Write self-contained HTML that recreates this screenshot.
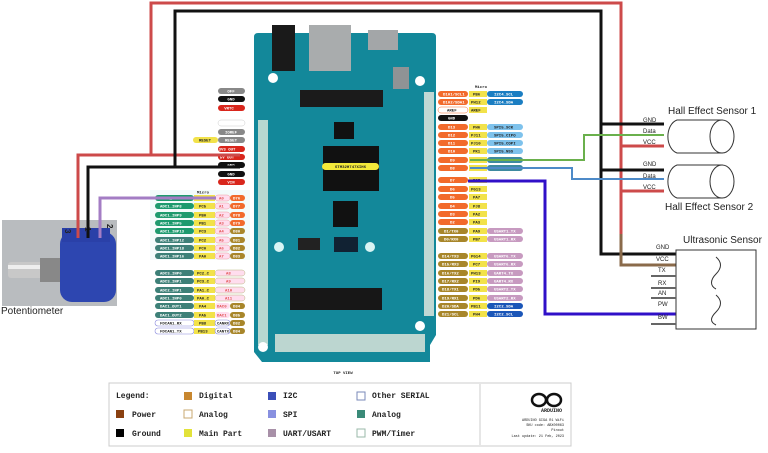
<!DOCTYPE html>
<html><head><meta charset="utf-8"><style>
html,body{margin:0;padding:0;background:#fff;width:768px;height:453px;overflow:hidden}
svg{display:block}
.t{font-family:"Liberation Mono",monospace;font-weight:bold;font-size:4px;fill:#fff}
.d{font-family:"Liberation Mono",monospace;font-weight:bold;font-size:4px;fill:#222}
.r{font-family:"Liberation Mono",monospace;font-weight:bold;font-size:4px;fill:#e05050}
.s{font-family:"Liberation Sans",sans-serif;fill:#222}
.lg{font-family:"Liberation Mono",monospace;font-weight:bold;font-size:8px;fill:#222}
</style></head><body>
<svg width="768" height="453" viewBox="0 0 768 453" xmlns="http://www.w3.org/2000/svg">
<!-- board -->
<path d="M254 37 Q254 33 258 33 L432 33 Q436 33 436 37 L436 335 L430 345 L430 362 L262 362 L254 352 Z" fill="#13889a"/>
<rect x="258" y="120" width="10" height="225" fill="#b8d8d0"/>
<rect x="424" y="92" width="10" height="224" fill="#c0d8d4"/>
<rect x="275" y="334" width="150" height="18" fill="#bcd6d0"/>
<rect x="272" y="25" width="23" height="46" fill="#1a1a1a"/>
<rect x="309" y="25" width="42" height="46" fill="#a9acad"/>
<rect x="368" y="30" width="30" height="20" fill="#a3a6a8"/>
<rect x="393" y="67" width="16" height="22" fill="#8f9395"/>
<rect x="300" y="90" width="83" height="17" fill="#1b1b1b"/>
<rect x="334" y="122" width="20" height="17" fill="#111"/>
<rect x="323" y="146" width="56" height="45" fill="#111"/>
<rect x="322" y="163" width="57" height="7" rx="3.5" fill="#f3e93a"/>
<text x="350.5" y="168" text-anchor="middle" class="d">STM32H747XIH6</text>
<rect x="333" y="201" width="25" height="26" fill="#111"/>
<rect x="298" y="238" width="22" height="12" fill="#222"/>
<rect x="334" y="237" width="24" height="15" fill="#123"/>
<rect x="290" y="288" width="92" height="22" fill="#171717"/>
<circle cx="273" cy="78" r="5" fill="#fff"/><circle cx="420" cy="81" r="5" fill="#fff"/>
<circle cx="279" cy="247" r="5" fill="#d8f4f4"/><circle cx="370" cy="247" r="5" fill="#d8f4f4"/>
<circle cx="420" cy="326" r="5" fill="#fff"/><circle cx="263" cy="347" r="5" fill="#fff"/>
<text x="343" y="374" class="d" text-anchor="middle">TOP VIEW</text>

<!-- left top labels -->
<g>
<rect x="218" y="88" width="27" height="6" rx="3" fill="#888"/><text x="231" y="92.5" class="t" text-anchor="middle">OFF</text>
<rect x="218" y="96" width="27" height="6" rx="3" fill="#111"/><text x="231" y="100.5" class="t" text-anchor="middle">GND</text>
<rect x="218" y="105" width="27" height="6" rx="3" fill="#d9261c"/><text x="229" y="109.5" class="t" text-anchor="middle">VRTC</text>
<rect x="218" y="120" width="27" height="6" rx="3" fill="#fff" stroke="#ccc" stroke-width=".5"/>
<rect x="218" y="129" width="27" height="6" rx="3" fill="#888"/><text x="231" y="133.5" class="t" text-anchor="middle">IOREF</text>
<rect x="193" y="137" width="25" height="6" rx="3" fill="#f2e24a"/><text x="205" y="141.5" class="d" text-anchor="middle">RESET</text>
<rect x="218" y="137" width="27" height="6" rx="3" fill="#888"/><text x="231" y="141.5" class="t" text-anchor="middle">RESET</text>
<rect x="218" y="146" width="27" height="6" rx="3" fill="#d9261c"/><text x="227" y="150.5" class="t" text-anchor="middle">3V3 OUT</text>
<rect x="218" y="154" width="27" height="6" rx="3" fill="#d9261c"/><text x="227" y="158.5" class="t" text-anchor="middle">5V OUT</text>
<rect x="218" y="162" width="27" height="6" rx="3" fill="#111"/><text x="231" y="166.5" class="t" text-anchor="middle">GND</text>
<rect x="218" y="171" width="27" height="6" rx="3" fill="#111"/><text x="231" y="175.5" class="t" text-anchor="middle">GND</text>
<rect x="218" y="179" width="27" height="6" rx="3" fill="#d9261c"/><text x="231" y="183.5" class="t" text-anchor="middle">VIN</text>
</g>
<!-- left analog -->
<g>
<rect x="150" y="190" width="100" height="70" fill="#f3fbfb"/>
<text x="197" y="193.5" class="d">Micro</text>
<rect x="155" y="195" width="39" height="6" rx="3" fill="#1e9a6e"/><rect x="194" y="195" width="21" height="6" fill="#f2e24a"/><rect x="215" y="195" width="15" height="6" rx="3" fill="#fde" stroke="#e88" stroke-width=".4"/><rect x="230" y="195" width="15" height="6" rx="3" fill="#f26a2b"/>
<rect x="155" y="203" width="39" height="6" rx="3" fill="#1e9a6e"/><rect x="194" y="203" width="21" height="6" fill="#f2e24a"/><rect x="215" y="203" width="15" height="6" rx="3" fill="#fde" stroke="#e88" stroke-width=".4"/><rect x="230" y="203" width="15" height="6" rx="3" fill="#f26a2b"/>
<rect x="155" y="212" width="39" height="6" rx="3" fill="#1e9a6e"/><rect x="194" y="212" width="21" height="6" fill="#f2e24a"/><rect x="215" y="212" width="15" height="6" rx="3" fill="#fde" stroke="#e88" stroke-width=".4"/><rect x="230" y="212" width="15" height="6" rx="3" fill="#f26a2b"/>
<rect x="155" y="220" width="39" height="6" rx="3" fill="#1e9a6e"/><rect x="194" y="220" width="21" height="6" fill="#f2e24a"/><rect x="215" y="220" width="15" height="6" rx="3" fill="#fde" stroke="#e88" stroke-width=".4"/><rect x="230" y="220" width="15" height="6" rx="3" fill="#f26a2b"/>
<rect x="155" y="228" width="39" height="6" rx="3" fill="#1e9a6e"/><rect x="194" y="228" width="21" height="6" fill="#f2e24a"/><rect x="215" y="228" width="15" height="6" rx="3" fill="#fde" stroke="#e88" stroke-width=".4"/><rect x="230" y="228" width="15" height="6" rx="3" fill="#a8862a"/>
<rect x="155" y="237" width="39" height="6" rx="3" fill="#3e8078"/><rect x="194" y="237" width="21" height="6" fill="#f2e24a"/><rect x="215" y="237" width="15" height="6" rx="3" fill="#fde" stroke="#e88" stroke-width=".4"/><rect x="230" y="237" width="15" height="6" rx="3" fill="#a8862a"/>
<rect x="155" y="245" width="39" height="6" rx="3" fill="#3e8078"/><rect x="194" y="245" width="21" height="6" fill="#f2e24a"/><rect x="215" y="245" width="15" height="6" rx="3" fill="#fde" stroke="#e88" stroke-width=".4"/><rect x="230" y="245" width="15" height="6" rx="3" fill="#a8862a"/>
<rect x="155" y="253" width="39" height="6" rx="3" fill="#3e8078"/><rect x="194" y="253" width="21" height="6" fill="#f2e24a"/><rect x="215" y="253" width="15" height="6" rx="3" fill="#fde" stroke="#e88" stroke-width=".4"/><rect x="230" y="253" width="15" height="6" rx="3" fill="#a8862a"/>
<text x="160" y="199.5" class="t">ADC1_INP4</text><text x="199" y="199.5" class="d">PC4</text><text x="219" y="199.5" class="r">A0</text><text x="233" y="199.5" class="t">D76</text>
<text x="160" y="207.5" class="t">ADC1_INP8</text><text x="199" y="207.5" class="d">PC5</text><text x="219" y="207.5" class="r">A1</text><text x="233" y="207.5" class="t">D77</text>
<text x="160" y="216.5" class="t">ADC1_INP9</text><text x="199" y="216.5" class="d">PB0</text><text x="219" y="216.5" class="r">A2</text><text x="233" y="216.5" class="t">D78</text>
<text x="160" y="224.5" class="t">ADC1_INP5</text><text x="199" y="224.5" class="d">PB1</text><text x="219" y="224.5" class="r">A3</text><text x="233" y="224.5" class="t">D79</text>
<text x="160" y="232.5" class="t">ADC1_INP13</text><text x="199" y="232.5" class="d">PC3</text><text x="219" y="232.5" class="r">A4</text><text x="233" y="232.5" class="t">D80</text>
<text x="160" y="241.5" class="t">ADC1_INP12</text><text x="199" y="241.5" class="d">PC2</text><text x="219" y="241.5" class="r">A5</text><text x="233" y="241.5" class="t">D81</text>
<text x="160" y="249.5" class="t">ADC1_INP18</text><text x="199" y="249.5" class="d">PC0</text><text x="219" y="249.5" class="r">A6</text><text x="233" y="249.5" class="t">D82</text>
<text x="160" y="257.5" class="t">ADC1_INP16</text><text x="199" y="257.5" class="d">PA0</text><text x="219" y="257.5" class="r">A7</text><text x="233" y="257.5" class="t">D83</text>

<rect x="155" y="270" width="39" height="6" rx="3" fill="#3e8078"/><rect x="194" y="270" width="21" height="6" fill="#f2e24a"/><rect x="215" y="270" width="30" height="6" rx="3" fill="#fde" stroke="#aa6" stroke-width=".4"/>
<rect x="155" y="278" width="39" height="6" rx="3" fill="#3e8078"/><rect x="194" y="278" width="21" height="6" fill="#f2e24a"/><rect x="215" y="278" width="30" height="6" rx="3" fill="#fde" stroke="#aa6" stroke-width=".4"/>
<rect x="155" y="287" width="39" height="6" rx="3" fill="#3e8078"/><rect x="194" y="287" width="21" height="6" fill="#f2e24a"/><rect x="215" y="287" width="30" height="6" rx="3" fill="#fde" stroke="#aa6" stroke-width=".4"/>
<rect x="155" y="295" width="39" height="6" rx="3" fill="#3e8078"/><rect x="194" y="295" width="21" height="6" fill="#f2e24a"/><rect x="215" y="295" width="30" height="6" rx="3" fill="#fde" stroke="#aa6" stroke-width=".4"/>
<rect x="155" y="303" width="39" height="6" rx="3" fill="#3e8078"/><rect x="194" y="303" width="21" height="6" fill="#f2e24a"/><rect x="215" y="303" width="15" height="6" rx="3" fill="#fde"/><rect x="230" y="303" width="15" height="6" rx="3" fill="#a8862a"/>
<rect x="155" y="312" width="39" height="6" rx="3" fill="#3e8078"/><rect x="194" y="312" width="21" height="6" fill="#f2e24a"/><rect x="215" y="312" width="15" height="6" rx="3" fill="#fde"/><rect x="230" y="312" width="15" height="6" rx="3" fill="#a8862a"/>
<rect x="155" y="320" width="39" height="6" rx="3" fill="#fff" stroke="#88d" stroke-width=".6"/><rect x="194" y="320" width="21" height="6" fill="#f2e24a"/><rect x="215" y="320" width="15" height="6" rx="3" fill="#fff" stroke="#88d" stroke-width=".6"/><rect x="230" y="320" width="15" height="6" rx="3" fill="#a8862a"/>
<rect x="155" y="328" width="39" height="6" rx="3" fill="#fff" stroke="#88d" stroke-width=".6"/><rect x="194" y="328" width="21" height="6" fill="#f2e24a"/><rect x="215" y="328" width="15" height="6" rx="3" fill="#fff" stroke="#88d" stroke-width=".6"/><rect x="230" y="328" width="15" height="6" rx="3" fill="#a8862a"/>
<text x="160" y="274.5" class="t">ADC3_INP0</text><text x="197" y="274.5" class="d">PC2_C</text><text x="226" y="274.5" class="r">A8</text>
<text x="160" y="282.5" class="t">ADC3_INP1</text><text x="197" y="282.5" class="d">PC3_C</text><text x="226" y="282.5" class="r">A9</text>
<text x="160" y="291.5" class="t">ADC2_INP1</text><text x="197" y="291.5" class="d">PA1_C</text><text x="225" y="291.5" class="r">A10</text>
<text x="160" y="299.5" class="t">ADC1_INP0</text><text x="197" y="299.5" class="d">PA0_C</text><text x="225" y="299.5" class="r">A11</text>
<text x="160" y="307.5" class="t">DAC1_OUT1</text><text x="199" y="307.5" class="d">PA4</text><text x="217" y="307.5" class="r">DAC0</text><text x="233" y="307.5" class="t">D84</text>
<text x="160" y="316.5" class="t">DAC1_OUT2</text><text x="199" y="316.5" class="d">PA5</text><text x="217" y="316.5" class="r">DAC1</text><text x="233" y="316.5" class="t">D85</text>
<text x="160" y="324.5" class="d">FDCAN1_RX</text><text x="199" y="324.5" class="d">PB8</text><text x="217" y="324.5" class="d">CANRX</text><text x="233" y="324.5" class="t">D82</text>
<text x="160" y="332.5" class="d">FDCAN1_TX</text><text x="198" y="332.5" class="d">PB13</text><text x="217" y="332.5" class="d">CANTX</text><text x="233" y="332.5" class="t">D84</text>
</g>

<!-- right labels -->
<g>
<text x="475" y="88" class="d">Micro</text>
<rect x="438" y="91" width="30" height="6" rx="3" fill="#f26a2b"/><rect x="469" y="91" width="18" height="6" fill="#f2e24a"/><rect x="487" y="91" width="36" height="6" rx="3" fill="#1b7ec2"/>
<rect x="438" y="99" width="30" height="6" rx="3" fill="#f26a2b"/><rect x="469" y="99" width="18" height="6" fill="#f2e24a"/><rect x="487" y="99" width="36" height="6" rx="3" fill="#1b7ec2"/>
<rect x="438" y="107" width="30" height="6" rx="3" fill="#fff" stroke="#f26a2b" stroke-width=".5"/><rect x="469" y="107" width="18" height="6" fill="#f2e24a"/>
<rect x="438" y="115" width="30" height="6" rx="3" fill="#111"/>
<rect x="438" y="124" width="30" height="6" rx="3" fill="#f26a2b"/><rect x="469" y="124" width="18" height="6" fill="#f2e24a"/><rect x="487" y="124" width="36" height="6" rx="3" fill="#7ec2ec"/>
<rect x="438" y="132" width="30" height="6" rx="3" fill="#f26a2b"/><rect x="469" y="132" width="18" height="6" fill="#f2e24a"/><rect x="487" y="132" width="36" height="6" rx="3" fill="#7ec2ec"/>
<rect x="438" y="140" width="30" height="6" rx="3" fill="#f26a2b"/><rect x="469" y="140" width="18" height="6" fill="#f2e24a"/><rect x="487" y="140" width="36" height="6" rx="3" fill="#7ec2ec"/>
<rect x="438" y="148" width="30" height="6" rx="3" fill="#f26a2b"/><rect x="469" y="148" width="18" height="6" fill="#f2e24a"/><rect x="487" y="148" width="36" height="6" rx="3" fill="#7ec2ec"/>
<rect x="438" y="157" width="30" height="6" rx="3" fill="#f26a2b"/><rect x="469" y="157" width="18" height="6" fill="#f2e24a"/><rect x="487" y="157" width="36" height="6" rx="3" fill="#3e8aa0"/>
<rect x="438" y="165" width="30" height="6" rx="3" fill="#f26a2b"/><rect x="469" y="165" width="18" height="6" fill="#f2e24a"/><rect x="487" y="165" width="36" height="6" rx="3" fill="#3e8aa0"/>
<text x="443" y="95.5" class="t">D101/SCL1</text><text x="473" y="95.5" class="d">PB6</text><text x="494" y="95.5" class="t">I2C4_SCL</text>
<text x="443" y="103.5" class="t">D102/SDA1</text><text x="471" y="103.5" class="d">PH12</text><text x="494" y="103.5" class="t">I2C4_SDA</text>
<text x="447" y="111.5" class="d">AREF</text><text x="471" y="111.5" class="d">AREF</text>
<text x="448" y="119.5" class="t">GND</text>
<text x="448" y="128.5" class="t">D13</text><text x="473" y="128.5" class="d">PH6</text><text x="494" y="128.5" class="d">SPI5_SCK</text>
<text x="448" y="136.5" class="t">D12</text><text x="471" y="136.5" class="d">PJ11</text><text x="494" y="136.5" class="d">SPI5_CIPO</text>
<text x="448" y="144.5" class="t">D11</text><text x="471" y="144.5" class="d">PJ10</text><text x="494" y="144.5" class="d">SPI5_COPI</text>
<text x="448" y="152.5" class="t">D10</text><text x="473" y="152.5" class="d">PK1</text><text x="494" y="152.5" class="d">SPI5_NSS</text>
<text x="450" y="161.5" class="t">D9</text><text x="450" y="169.5" class="t">D8</text>

<rect x="438" y="177" width="30" height="6" rx="3" fill="#f26a2b"/><rect x="469" y="177" width="18" height="6" fill="#f2e24a"/>
<rect x="438" y="186" width="30" height="6" rx="3" fill="#f26a2b"/><rect x="469" y="186" width="18" height="6" fill="#f2e24a"/>
<rect x="438" y="194" width="30" height="6" rx="3" fill="#f26a2b"/><rect x="469" y="194" width="18" height="6" fill="#f2e24a"/>
<rect x="438" y="203" width="30" height="6" rx="3" fill="#f26a2b"/><rect x="469" y="203" width="18" height="6" fill="#f2e24a"/>
<rect x="438" y="211" width="30" height="6" rx="3" fill="#f26a2b"/><rect x="469" y="211" width="18" height="6" fill="#f2e24a"/>
<rect x="438" y="219" width="30" height="6" rx="3" fill="#f26a2b"/><rect x="469" y="219" width="18" height="6" fill="#f2e24a"/>
<rect x="438" y="228" width="30" height="6" rx="3" fill="#a8862a"/><rect x="469" y="228" width="18" height="6" fill="#f2e24a"/><rect x="487" y="228" width="36" height="6" rx="3" fill="#c79ac0"/>
<rect x="438" y="236" width="30" height="6" rx="3" fill="#a8862a"/><rect x="469" y="236" width="18" height="6" fill="#f2e24a"/><rect x="487" y="236" width="36" height="6" rx="3" fill="#c79ac0"/>
<text x="450" y="181.5" class="t">D7</text><text x="473" y="181.5" class="d">PG7</text>
<text x="450" y="190.5" class="t">D6</text><text x="471" y="190.5" class="d">PG13</text>
<text x="450" y="198.5" class="t">D5</text><text x="473" y="198.5" class="d">PA7</text>
<text x="450" y="207.5" class="t">D4</text><text x="473" y="207.5" class="d">PJ8</text>
<text x="450" y="215.5" class="t">D3</text><text x="473" y="215.5" class="d">PA2</text>
<text x="450" y="223.5" class="t">D2</text><text x="473" y="223.5" class="d">PA3</text>
<text x="444" y="232.5" class="t">D1/TX0</text><text x="473" y="232.5" class="d">PA9</text><text x="494" y="232.5" class="t">USART1_TX</text>
<text x="444" y="240.5" class="t">D0/RX0</text><text x="473" y="240.5" class="d">PB7</text><text x="494" y="240.5" class="t">USART1_RX</text>

<rect x="438" y="253" width="30" height="6" rx="3" fill="#a8862a"/><rect x="469" y="253" width="18" height="6" fill="#f2e24a"/><rect x="487" y="253" width="36" height="6" rx="3" fill="#c79ac0"/>
<rect x="438" y="261" width="30" height="6" rx="3" fill="#a8862a"/><rect x="469" y="261" width="18" height="6" fill="#f2e24a"/><rect x="487" y="261" width="36" height="6" rx="3" fill="#c79ac0"/>
<rect x="438" y="270" width="30" height="6" rx="3" fill="#a8862a"/><rect x="469" y="270" width="18" height="6" fill="#f2e24a"/><rect x="487" y="270" width="36" height="6" rx="3" fill="#c79ac0"/>
<rect x="438" y="278" width="30" height="6" rx="3" fill="#a8862a"/><rect x="469" y="278" width="18" height="6" fill="#f2e24a"/><rect x="487" y="278" width="36" height="6" rx="3" fill="#c79ac0"/>
<rect x="438" y="286" width="30" height="6" rx="3" fill="#a8862a"/><rect x="469" y="286" width="18" height="6" fill="#f2e24a"/><rect x="487" y="286" width="36" height="6" rx="3" fill="#c79ac0"/>
<rect x="438" y="295" width="30" height="6" rx="3" fill="#a8862a"/><rect x="469" y="295" width="18" height="6" fill="#f2e24a"/><rect x="487" y="295" width="36" height="6" rx="3" fill="#c79ac0"/>
<rect x="438" y="303" width="30" height="6" rx="3" fill="#a8862a"/><rect x="469" y="303" width="18" height="6" fill="#f2e24a"/><rect x="487" y="303" width="36" height="6" rx="3" fill="#1b56b8"/>
<rect x="438" y="311" width="30" height="6" rx="3" fill="#a8862a"/><rect x="469" y="311" width="18" height="6" fill="#f2e24a"/><rect x="487" y="311" width="36" height="6" rx="3" fill="#1b56b8"/>
<text x="442" y="257.5" class="t">D14/TX3</text><text x="471" y="257.5" class="d">PG14</text><text x="494" y="257.5" class="t">USART6_TX</text>
<text x="442" y="265.5" class="t">D15/RX3</text><text x="473" y="265.5" class="d">PC7</text><text x="494" y="265.5" class="t">USART6_RX</text>
<text x="442" y="274.5" class="t">D16/TX2</text><text x="471" y="274.5" class="d">PH13</text><text x="494" y="274.5" class="t">UART4_TX</text>
<text x="442" y="282.5" class="t">D17/RX2</text><text x="473" y="282.5" class="d">PI9</text><text x="494" y="282.5" class="t">UART4_RX</text>
<text x="442" y="290.5" class="t">D18/TX1</text><text x="473" y="290.5" class="d">PD5</text><text x="494" y="290.5" class="t">USART2_TX</text>
<text x="442" y="299.5" class="t">D19/RX1</text><text x="473" y="299.5" class="d">PD6</text><text x="494" y="299.5" class="t">USART2_RX</text>
<text x="442" y="307.5" class="t">D20/SDA</text><text x="471" y="307.5" class="d">PB11</text><text x="494" y="307.5" class="t">I2C2_SDA</text>
<text x="442" y="315.5" class="t">D21/SCL</text><text x="473" y="315.5" class="d">PH4</text><text x="494" y="315.5" class="t">I2C2_SCL</text>
</g>

<!-- potentiometer -->
<rect x="2" y="220" width="115" height="86" fill="#b9bcbf"/>
<rect x="8" y="262" width="40" height="16" rx="3" fill="#c8c8c8"/>
<rect x="8" y="265" width="40" height="4" fill="#eee"/>
<rect x="40" y="258" width="30" height="24" fill="#888"/>
<rect x="60" y="232" width="56" height="70" rx="12" fill="#2d46b0"/>
<rect x="62" y="228" width="48" height="14" fill="#2a40a8"/>
<text x="64" y="236" class="s" style="font-size:8px;font-weight:bold" transform="rotate(90 68 233)">3</text>
<text x="84" y="234" class="s" style="font-size:8px;font-weight:bold" transform="rotate(90 88 231)">1</text>
<text x="105" y="230" class="s" style="font-size:8px;font-weight:bold" transform="rotate(90 109 228)">2</text>
<text x="1" y="314" class="s" style="font-size:10px">Potentiometer</text>

<!-- wires -->
<g fill="none" stroke-width="3">
<polyline points="151,155 151,3 621,3 621,265 676,265" stroke="#cd4a4a"/>
<polyline points="78,238 78,155 240,155" stroke="#cd4a4a"/>
<polyline points="175,167 175,11 601,11 601,254 676,254" stroke="#111"/>
<polyline points="88,238 88,167 240,167" stroke="#111"/>
<polyline points="100,238 100,198 216,198" stroke="#a47dc4"/>
<polyline points="601,124 664,124" stroke="#111"/>
<polyline points="601,170 664,170" stroke="#111"/>
<polyline points="621,146 664,146" stroke="#cd4a4a"/>
<polyline points="621,191 664,191" stroke="#cd4a4a"/>
<polyline points="621,234 621,265 676,265" stroke="#8a6a4a"/>
<polyline points="470,160 584,160 584,135 664,135" stroke="#6ab04c" stroke-width="2"/>
<polyline points="470,168 572,168 572,179 664,179" stroke="#4d8ac8" stroke-width="2"/>
<polyline points="468,181 545,181 545,314 676,314" stroke="#3010c8"/>
</g>

<!-- hall sensors -->
<text x="668" y="114" class="s" style="font-size:10px">Hall Effect Sensor 1</text>
<path d="M677 120 L722 120 A12 17 0 0 1 722 153 L677 153 A12 17 0 0 1 677 120 Z" fill="#fff" stroke="#333"/>
<ellipse cx="722" cy="136.5" rx="12" ry="16.5" fill="#fff" stroke="#333"/>
<text x="643" y="122" class="s" style="font-size:6px">GND</text><text x="643" y="133" class="s" style="font-size:6px">Data</text><text x="643" y="144" class="s" style="font-size:6px">VCC</text>
<path d="M677 165 L722 165 A12 17 0 0 1 722 198 L677 198 A12 17 0 0 1 677 165 Z" fill="#fff" stroke="#333"/>
<ellipse cx="722" cy="181.5" rx="12" ry="16.5" fill="#fff" stroke="#333"/>
<text x="643" y="166" class="s" style="font-size:6px">GND</text><text x="643" y="178" class="s" style="font-size:6px">Data</text><text x="643" y="189" class="s" style="font-size:6px">VCC</text>
<text x="665" y="210" class="s" style="font-size:10px">Hall Effect Sensor 2</text>

<!-- ultrasonic -->
<text x="683" y="243" class="s" style="font-size:10px">Ultrasonic Sensor</text>
<rect x="676" y="250" width="80" height="79" fill="#fff" stroke="#333"/>
<path d="M716 257 C722 262,722 268,716 274 C710 280,710 286,716 289" fill="none" stroke="#333"/>
<path d="M716 295 C722 300,722 306,716 312 C710 318,710 322,716 325" fill="none" stroke="#333"/>
<g stroke="#666" stroke-width="2"><line x1="651" y1="276" x2="676" y2="276"/><line x1="651" y1="288" x2="676" y2="288"/><line x1="651" y1="298" x2="676" y2="298"/><line x1="651" y1="324" x2="676" y2="324"/></g>
<g class="s" style="font-size:6px"><text x="656" y="249">GND</text><text x="656" y="261">VCC</text><text x="658" y="272">TX</text><text x="658" y="285">RX</text><text x="658" y="295">AN</text><text x="658" y="306">PW</text><text x="658" y="319">BW</text></g>

<!-- legend -->
<rect x="109" y="383" width="462" height="63" fill="#fff" stroke="#ccc"/>
<line x1="480" y1="384" x2="480" y2="445" stroke="#ccc"/>
<text x="116" y="398" class="lg">Legend:</text>
<rect x="184" y="392" width="8" height="8" fill="#c8872f"/><text x="199" y="398" class="lg">Digital</text>
<rect x="268" y="392" width="8" height="8" fill="#3b4fb8"/><text x="283" y="398" class="lg">I2C</text>
<rect x="357" y="392" width="8" height="8" fill="#fff" stroke="#7a8ab8"/><text x="372" y="398" class="lg">Other SERIAL</text>
<rect x="116" y="410" width="8" height="8" fill="#8a4010"/><text x="132" y="417" class="lg">Power</text>
<rect x="184" y="410" width="8" height="8" fill="#fff" stroke="#c8a870"/><text x="199" y="417" class="lg">Analog</text>
<rect x="268" y="410" width="8" height="8" fill="#8890e0"/><text x="283" y="417" class="lg">SPI</text>
<rect x="357" y="410" width="8" height="8" fill="#3a8a78"/><text x="372" y="417" class="lg">Analog</text>
<rect x="116" y="429" width="8" height="8" fill="#000"/><text x="132" y="436" class="lg">Ground</text>
<rect x="184" y="429" width="8" height="8" fill="#e2e23a"/><text x="199" y="436" class="lg">Main Part</text>
<rect x="268" y="429" width="8" height="8" fill="#a890a8"/><text x="283" y="436" class="lg">UART/USART</text>
<rect x="357" y="429" width="8" height="8" fill="#fff" stroke="#9ab8a8"/><text x="372" y="436" class="lg">PWM/Timer</text>
<g fill="none" stroke="#111" stroke-width="2.5"><ellipse cx="539" cy="400" rx="7" ry="6"/><ellipse cx="554" cy="400" rx="7" ry="6"/></g>
<text x="562" y="412" class="d" text-anchor="end" style="font-size:5px">ARDUINO</text>
<g class="d" style="font-size:3.5px;font-weight:normal" text-anchor="end"><text x="564" y="421">ARDUINO GIGA R1 WiFi</text><text x="564" y="426">SKU code: ABX00063</text><text x="564" y="431">Pinout</text><text x="564" y="437">Last update: 21 Feb, 2023</text></g>
</svg>
</body></html>
